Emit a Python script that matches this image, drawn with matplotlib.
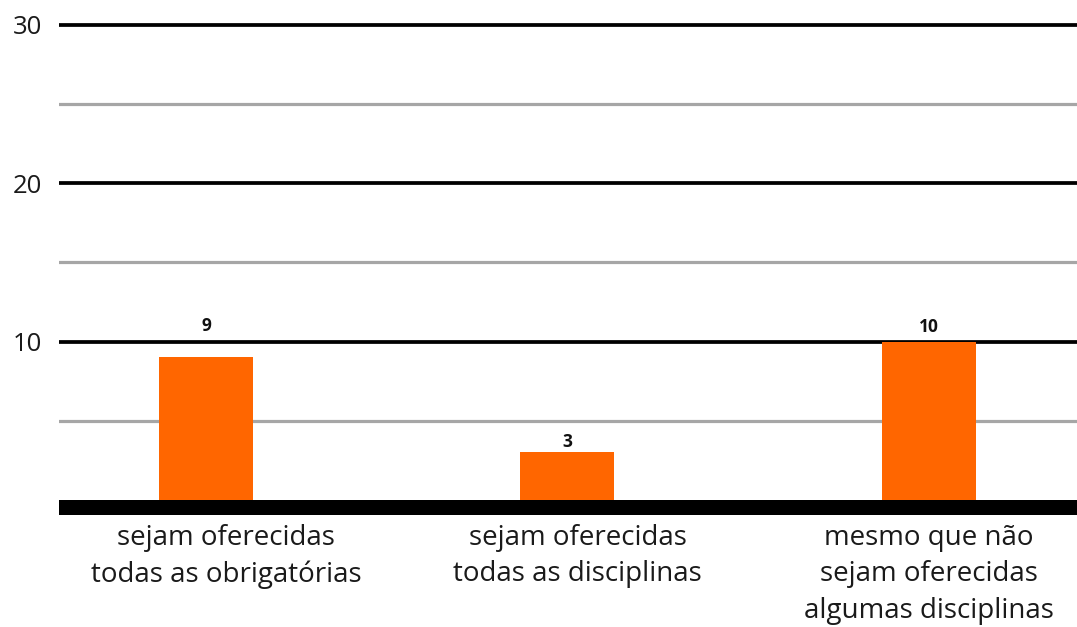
import matplotlib
matplotlib.use("Agg")
import matplotlib.pyplot as plt

categories = ["sejam oferecidas\ntodas as obrigatórias",
              "sejam oferecidas\ntodas as disciplinas",
              "mesmo que não\nsejam oferecidas\nalgumas disciplinas"]
values = [9, 3, 10]
major_ticks = [10, 20, 30]
minor_ticks = [5, 15, 25]

FONT = ["Open Sans", "DejaVu Sans"]
W, H = 1077, 627
fig = plt.figure(figsize=(W / 100, H / 100), dpi=100)
left, right, bottom, top = 59, 1077, 515, 14
ax = fig.add_axes([left / W, (H - bottom) / H, (right - left) / W, (bottom - top) / H])

unit = (500 - 24.5) / 30
ax.set_ylim(-(bottom - 500) / unit, 30 + (24.5 - top) / unit)
ax.set_xlim(-0.407, 2.41)

for y in minor_ticks:
    ax.axhline(y, color="#a6a6a6", lw=2.3, zorder=1)
for y in major_ticks:
    ax.axhline(y, color="black", lw=2.7, zorder=1)
ax.axhspan(ax.get_ylim()[0], 0, color="black", lw=0, zorder=3)

x = list(range(len(values)))
ax.bar(x, values, width=0.26, color="#FF6600", zorder=2)

label_offsets = [31, 10, 15]
for xi, v, off in zip(x, values, label_offsets):
    ax.annotate(str(v), (xi, v), xytext=(0, off * 0.72), textcoords="offset points",
                ha="center", va="center", fontsize=12.5, fontweight="bold",
                family=FONT, color="#111111")

xoffs = [20, 10, 0]
for xi, lab, xo in zip(x, categories, xoffs):
    ax.annotate(lab, (xi, 0), xycoords=("data", "axes fraction"),
                xytext=(xo * 0.72, -9 * 0.72), textcoords="offset points",
                ha="center", va="top", fontsize=20, family=FONT,
                color="#1a1a1a", linespacing=1.4)

ax.set_yticks(major_ticks)
ax.set_yticklabels([str(t) for t in major_ticks], fontsize=18.5, family=FONT, color="#1a1a1a")
ax.tick_params(axis="y", length=0, pad=17 * 0.72)
ax.set_xticks([])
for s in ax.spines.values():
    s.set_visible(False)

fig.savefig("out.png", dpi=100)
